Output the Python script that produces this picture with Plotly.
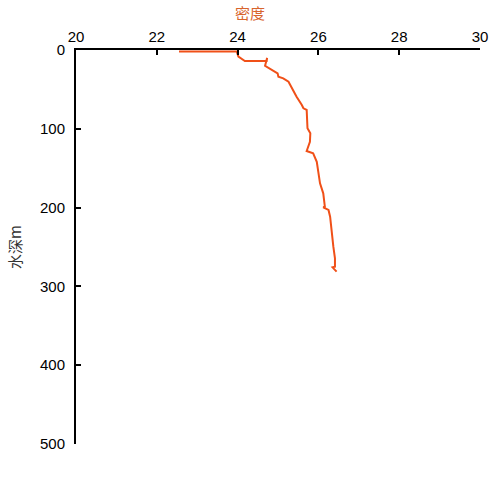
import plotly.graph_objects as go

density = [22.55, 23.98, 24.02, 24.18, 24.72, 24.73, 24.68, 24.84, 24.99, 25.01, 25.13, 25.26,
           25.34, 25.38, 25.46, 25.59, 25.63, 25.71, 25.73, 25.80, 25.79, 25.71, 25.87, 25.96,
           26.00, 26.04, 26.12, 26.16, 26.12, 26.25, 26.29, 26.33, 26.37, 26.41, 26.41,
           26.35, 26.45]
depth = [2.0, 2.0, 8.5, 14.0, 14.0, 10.0, 20.0, 25.4, 29.6, 33.9, 35.9, 40.2,
         48.6, 50.8, 59.3, 69.8, 74.0, 76.1, 99.4, 105.7, 116.4, 128.2, 131.1, 141.8,
         155.0, 169.2, 181.9, 198.9, 199.6, 203.0, 211.5, 232.6, 249.6, 264.3, 275.0,
         275.8, 281.3]

x_ticks = [20, 22, 24, 26, 28, 30]
y_ticks = [0, 100, 200, 300, 400, 500]

fig = go.Figure()
fig.add_trace(go.Scatter(x=density, y=depth, mode="lines",
                         line=dict(color="#F05018", width=2), showlegend=False))

font = dict(family="Arial", size=15, color="black")
fig.update_layout(
    width=500, height=500,
    margin=dict(l=76, r=20, t=50, b=56, autoexpand=False),
    plot_bgcolor="white", paper_bgcolor="white",
    font=font,
    xaxis=dict(side="top", range=[20, 30], tickvals=x_ticks, ticks="inside", ticklen=5,
               tickwidth=2, tickcolor="black", showline=True, linecolor="black", linewidth=2,
               showgrid=False, zeroline=False, automargin=False),
    yaxis=dict(range=[500, 0], tickvals=y_ticks, ticks="inside", ticklen=5,
               tickwidth=2, tickcolor="black", showline=True, linecolor="black", linewidth=2,
               showgrid=False, zeroline=False, automargin=False, ticklabelstandoff=6,
               title=dict(text="水深m", font=dict(family="Noto Sans CJK SC", size=15, color="#333333"),
                          standoff=15)),
    annotations=[dict(text="密度", xref="paper", yref="paper", x=0.43, y=1 + 37 / 394,
                      xanchor="center", yanchor="middle", showarrow=False,
                      font=dict(family="Noto Sans CJK SC", size=15, color="#D8642C"))],
)
fig.write_html("out.html", config={"displayModeBar": False},
               post_script="document.body.style.margin='0px';document.body.style.overflow='hidden';")
